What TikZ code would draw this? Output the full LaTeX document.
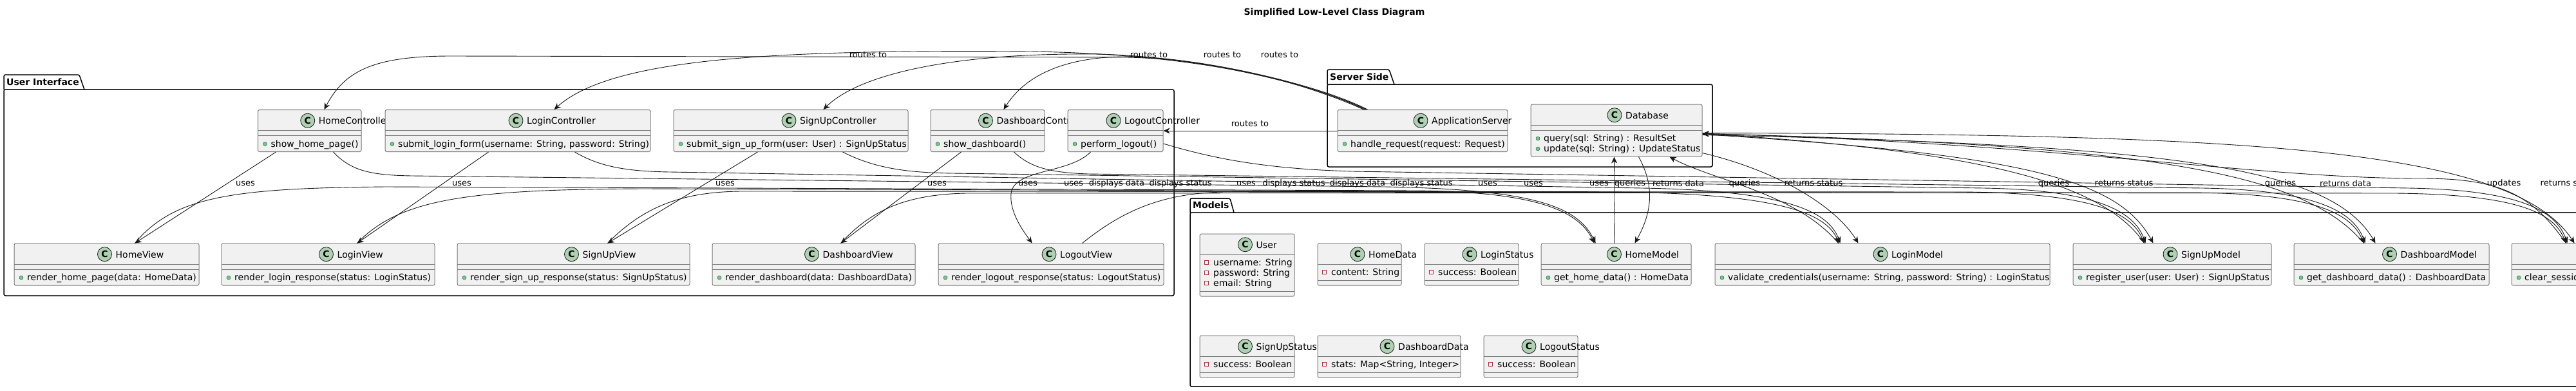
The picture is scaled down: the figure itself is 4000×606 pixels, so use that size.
\documentclass[tikz,border=0pt]{standalone}
\usepackage{fontspec}
\setmainfont{DejaVu Sans}
\usetikzlibrary{arrows.meta,calc}
\definecolor{boxfill}{HTML}{F1F1F1}
\definecolor{boxline}{HTML}{7A7A7A}
\definecolor{spotfill}{HTML}{ADD1B2}
\definecolor{methfill}{HTML}{84BE84}
\definecolor{methline}{HTML}{038048}
\definecolor{fieldline}{HTML}{C82930}
\definecolor{edgecol}{HTML}{181818}
\newcommand\cfont{\fontsize{14}{16}\selectfont}
\newdimen\twd
\tikzset{
  classbox/.style={draw=boxline, fill=boxfill, line width=1pt, rounded corners=2.5pt, inner sep=0pt},
  sepline/.style={draw=boxline, line width=1pt},
  cname/.style={font=\cfont, inner sep=0pt, anchor=base west},
  member/.style={font=\cfont, inner sep=0pt, anchor=base west},
  spot/.style={circle, draw=edgecol, fill=spotfill, line width=0.8pt, minimum size=22pt, inner sep=0pt, font=\fontsize{14}{16}\selectfont\bfseries},
  rel/.style={draw=edgecol, line width=0.9pt, -{Stealth[length=10pt,width=9pt,inset=3pt]}},
  lbl/.style={font=\fontsize{13}{15}\selectfont, inner sep=0pt},
  pkg/.style={draw=black, line width=1.5pt, rounded corners=2.5pt},
  pkgname/.style={font=\fontsize{14}{16}\selectfont\bfseries, inner sep=0pt, anchor=base west},
}
% id, left, right, top, bottom, sep1, sep2, title
\newcommand\umlbox[8]{%
  \node[classbox, minimum width={(#3-#2)*1pt}, minimum height={(#5-#4)*1pt}] (#1) at ({(#2+#3)/2},{(#4+#5)/2}) {};
  \draw[sepline] (#2,#6) -- (#3,#6);
  \draw[sepline] (#2,#7) -- (#3,#7);
  \setbox0=\hbox{\cfont #8}\twd=\wd0
  \pgfmathsetmacro\gx{(#2+#3)/2-(28+\the\twd)/2}%
  \node[spot] (#1-c) at (\gx+11,#4+16.7) {C};
  \node[cname] (#1-n) at (\gx+28,#4+22) {#8};
}
\newcommand\meth[3]{%
  \filldraw[fill=methfill, draw=methline, line width=0.5pt] (#1+11,#2-4.5) circle (3pt);
  \node[member] at (#1+20,#2) {#3};
}
\newcommand\fld[3]{%
  \draw[fieldline, line width=0.8pt] (#1+7,#2-8) rectangle (#1+13,#2-2);
  \node[member] at (#1+21,#2) {#3};
}
\begin{document}
\begin{tikzpicture}[x=1pt,y=-1pt]
\useasboundingbox (0,0) rectangle (4000,606);
\fill[white] (0,0) rectangle (4000,606);

% title
\node[font=\fontsize{14}{16}\selectfont\bfseries, inner sep=0pt, anchor=base] (title) at (2072,23.5) {Simplified Low-Level Class Diagram};

% packages
\draw[pkg] (6,139) -- (6,116) -- (123,116) -- (131,139);
\draw[pkg] (6,139) rectangle (1823,459);
\node[pkgname] (pui) at (10,132.5) {User Interface};

\draw[pkg] (2061,131) -- (2061,108) -- (2157,108) -- (2165,131);
\draw[pkg] (2061,131) rectangle (2659,259);
\node[pkgname] (pss) at (2065,124.5) {Server Side};

\draw[pkg] (1848,330) -- (1848,308) -- (1910,308) -- (1916,330);
\draw[pkg] (1848,330) rectangle (4030,600);
\node[pkgname] (pmo) at (1852,323.5) {Models};

% controllers
\umlbox{hc}{400.5}{561}{170.5}{235.5}{202.5}{210.5}{HomeController}
\meth{400.5}{228}{show\_home\_page()}
\umlbox{lc}{598}{1010}{170.5}{235.5}{202.5}{210.5}{LoginController}
\meth{598}{228}{submit\_login\_form(username: String, password: String)}
\umlbox{sc}{1046}{1410}{170.5}{235.5}{202.5}{210.5}{SignUpController}
\meth{1046}{228}{submit\_sign\_up\_form(user: User) : SignUpStatus}
\umlbox{dc}{1445}{1622}{170.5}{235.5}{202.5}{210.5}{DashboardController}
\meth{1445}{228}{show\_dashboard()}
\umlbox{oc}{1658}{1806}{170.5}{235.5}{202.5}{210.5}{LogoutController}
\meth{1658}{228}{perform\_logout()}

% views
\umlbox{hv}{22}{309}{378}{443}{410}{418}{HomeView}
\meth{22}{435.5}{render\_home\_page(data: HomeData)}
\umlbox{lv}{344}{675}{378}{443}{410}{418}{LoginView}
\meth{344}{435.5}{render\_login\_response(status: LoginStatus)}
\umlbox{sv}{710}{1071}{378}{443}{410}{418}{SignUpView}
\meth{710}{435.5}{render\_sign\_up\_response(status: SignUpStatus)}
\umlbox{dv}{1106}{1421}{378}{443}{410}{418}{DashboardView}
\meth{1106}{435.5}{render\_dashboard(data: DashboardData)}
\umlbox{ov}{1457}{1807}{378}{443}{410}{418}{LogoutView}
\meth{1457}{435.5}{render\_logout\_response(status: LogoutStatus)}

% server side
\umlbox{app}{2077}{2341}{170.5}{235.5}{202.5}{210.5}{ApplicationServer}
\meth{2077}{228}{handle\_request(request: Request)}
\umlbox{db}{2377}{2643}{162}{243}{194}{202}{Database}
\meth{2377}{219.5}{query(sql: String) : ResultSet}
\meth{2377}{235.5}{update(sql: String) : UpdateStatus}

% models
\umlbox{user}{1863}{2010}{363}{460}{395}{452}{User}
\fld{1863}{412.5}{username: String}
\fld{1863}{428.5}{password: String}
\fld{1863}{444.5}{email: String}
\umlbox{hd}{2046}{2176}{378}{443}{410}{435}{HomeData}
\fld{2046}{427.5}{content: String}
\umlbox{ls}{2212}{2358}{378}{443}{410}{435}{LoginStatus}
\fld{2212}{427.5}{success: Boolean}
\umlbox{hm}{2393}{2626}{378}{443}{410}{418}{HomeModel}
\meth{2393}{435.5}{get\_home\_data() : HomeData}
\umlbox{lm}{2663}{3183}{378}{443}{410}{418}{LoginModel}
\meth{2663}{435.5}{validate\_credentials(username: String, password: String) : LoginStatus}
\umlbox{sm}{3219}{3527}{378}{443}{410}{418}{SignUpModel}
\meth{3219}{435.5}{register\_user(user: User) : SignUpStatus}
\umlbox{dm}{3562}{3865}{378}{443}{410}{418}{DashboardModel}
\meth{3562}{435.5}{get\_dashboard\_data() : DashboardData}
\umlbox{om}{3900}{4134}{378}{443}{410}{418}{LogoutModel}
\meth{3900}{435.5}{clear\_session()}
\umlbox{sus}{1863}{2010}{521}{586}{553}{578}{SignUpStatus}
\fld{1863}{570.5}{success: Boolean}
\umlbox{dd}{2046}{2268}{521}{586}{553}{578}{DashboardData}
\fld{2046}{570.5}{stats: Map<String, Integer>}
\umlbox{los}{2304}{2450}{521}{586}{553}{578}{LogoutStatus}
\fld{2304}{570.5}{success: Boolean}

% ---------- connectors ----------
% routes to
\draw[rel] ([xshift=41pt]app.north west) .. controls (2040,135) and (1900,92) .. (1750,89) -- (700,87) .. controls (580,87) and (535,110) .. ([xshift=103.5pt]hc.north west);
\draw[rel] ([xshift=43pt]app.north west) .. controls (2040,132) and (1880,84) .. (1600,80) .. controls (1200,77) and (950,90) .. ([xshift=263pt]lc.north west);
\draw[rel] ([xshift=45pt]app.north west) .. controls (2040,130) and (1850,86) .. (1700,84) .. controls (1500,82) and (1340,110) .. ([xshift=233pt]sc.north west);
\draw[rel] ([xshift=47pt]app.north west) .. controls (2040,128) and (1860,90) .. (1760,88) .. controls (1650,86) and (1590,120) .. ([xshift=114pt]dc.north west);
\draw[rel] (app.west) -- (oc.east);
\node[lbl] (l-r1) at (1348,85) {routes to};
\node[lbl] (l-r2) at (1784,85) {routes to};
\node[lbl] (l-r3) at (1898,85) {routes to};
\node[lbl] (l-r4) at (1987,85) {routes to};
\node[lbl] (l-r5) at (1941,192) {routes to};

% controller -> view : uses
\draw[rel] ([xshift=28.5pt]hc.south west) -- ([xshift=188pt]hv.north west);
\draw[rel] ([xshift=161pt]lc.south west) -- ([xshift=211pt]lv.north west);
\draw[rel] ([xshift=131pt]sc.south west) -- ([xshift=234pt]sv.north west);
\draw[rel] ([xshift=48pt]dc.south west) -- ([xshift=200pt]dv.north west);
\draw[rel] ([xshift=36pt]oc.south west) .. controls (1660,270) and (1575,262) .. (1570,300) .. controls (1567,330) and (1590,360) .. ([xshift=146pt]ov.north west);

% controller -> model : uses
\draw[rel] ([xshift=117.5pt]hc.south west) .. controls (545,265) and (575,272) .. (640,273) -- (2150,290) .. controls (2380,294) and (2450,320) .. ([xshift=85pt]hm.north west);
\draw[rel] ([xshift=295pt]lc.south west) .. controls (930,258) and (970,266) .. (1040,267) -- (2550,292) .. controls (2780,296) and (2840,330) .. ([xshift=195pt]lm.north west);
\draw[rel] ([xshift=263pt]sc.south west) .. controls (1360,262) and (1410,268) .. (1480,269) -- (3080,292) .. controls (3260,295) and (3315,330) .. ([xshift=113pt]sm.north west);
\draw[rel] ([xshift=130pt]dc.south west) .. controls (1600,260) and (1630,268) .. (1690,270) -- (3420,292) .. controls (3600,295) and (3655,330) .. ([xshift=111pt]dm.north west);
\draw[rel] ([yshift=-20pt]oc.east) .. controls (1880,245) and (1960,262) .. (2100,266) -- (3740,292) .. controls (3920,295) and (3970,330) .. ([xshift=87pt]om.north west);

% view -> model : displays
\draw[rel] ([xshift=188pt]hv.north west) .. controls (270,305) and (360,292) .. (600,290) -- (2200,296) .. controls (2380,298) and (2450,325) .. ([xshift=83pt]hm.north west);
\draw[rel] ([xshift=211pt]lv.north west) .. controls (620,310) and (720,294) .. (1000,293) -- (2500,298) .. controls (2760,300) and (2835,330) .. ([xshift=193pt]lm.north west);
\draw[rel] ([xshift=234pt]sv.north west) .. controls (1000,320) and (1060,298) .. (1150,297) -- (3050,298) .. controls (3250,300) and (3310,330) .. ([xshift=111pt]sm.north west);
\draw[rel] ([xshift=200pt]dv.north west) .. controls (1350,330) and (1400,302) .. (1500,300) -- (3400,299) .. controls (3590,300) and (3650,330) .. ([xshift=109pt]dm.north west);
\draw[rel] ([xshift=224pt]ov.north west) .. controls (1740,330) and (1800,300) .. (1900,298) -- (3720,300) .. controls (3910,302) and (3965,330) .. ([xshift=85pt]om.north west);

% labels in the band
\node[lbl] (l-u1) at (381,284.5) {uses};
\node[lbl] (l-u2) at (717,284.5) {uses};
\node[lbl] (l-u3) at (1126,284.5) {uses};
\node[lbl] (l-u4) at (1455,284.5) {uses};
\node[lbl] (l-u5) at (1596,284.5) {uses};
\node[lbl] (l-u6) at (1667,284.5) {uses};
\node[lbl] (l-d1) at (1734,284.5) {displays data};
\node[lbl] (l-d2) at (1833,284.5) {displays status};
\node[lbl] (l-u7) at (1935,284.5) {uses};
\node[lbl] (l-d3) at (2009,284.5) {displays status};
\node[lbl] (l-d4) at (2108,284.5) {displays data};
\node[lbl] (l-d5) at (2207,284.5) {displays status};
\node[lbl] (l-u8) at (2310,284.5) {uses};
\node[lbl] (l-u9) at (2381,284.5) {uses};
\node[lbl] (l-u10) at (2483,284.5) {uses};
\node[lbl] (l-q1) at (2531,284.5) {queries};
\node[lbl] (l-t1) at (2606,284.5) {returns data};
\node[lbl] (l-q2) at (2709,284.5) {queries};
\node[lbl] (l-t2) at (2816,284.5) {returns status};
\node[lbl] (l-q3) at (3189,284.5) {queries};
\node[lbl] (l-t3) at (3298,284.5) {returns status};
\node[lbl] (l-q4) at (3541,284.5) {queries};
\node[lbl] (l-t4) at (3642,284.5) {returns data};
\node[lbl] (l-q5) at (3888,284.5) {updates};
\node[lbl] (l-t5) at (3990,284.5) {returns status};

% model <-> database
\draw[rel] ([xshift=115pt]hm.north west) -- ([xshift=130pt]db.south west);
\draw[rel] ([xshift=168pt]db.south west) .. controls (2570,290) and (2565,330) .. ([xshift=146pt]hm.north west);
\draw[rel] ([xshift=192pt]lm.north west) .. controls (2790,300) and (2660,280) .. ([xshift=216pt]db.south west);
\draw[rel] ([yshift=6pt]db.south east) .. controls (2760,265) and (2850,320) .. ([xshift=223pt]lm.north west);
\draw[rel] ([xshift=111pt]sm.north west) .. controls (3270,290) and (3100,235) .. ([yshift=-5pt]db.east);
\draw[rel] ([yshift=-6pt]db.east) .. controls (3150,240) and (3290,280) .. ([xshift=125pt]sm.north west);
\draw[rel] ([xshift=109pt]dm.north west) .. controls (3580,270) and (3350,225) .. ([yshift=-5pt]db.east);
\draw[rel] ([yshift=-7pt]db.east) .. controls (3380,225) and (3620,260) .. ([xshift=127pt]dm.north west);
\draw[rel] ([xshift=85pt]om.north west) .. controls (3930,300) and (3880,277) .. (3760,277) .. controls (3500,277) and (3200,222) .. ([yshift=-5pt]db.east);
\draw[rel] ([yshift=-4pt]db.east) .. controls (3500,208) and (3900,230) .. ([xshift=98pt]om.north west);
\end{tikzpicture}
\end{document}
